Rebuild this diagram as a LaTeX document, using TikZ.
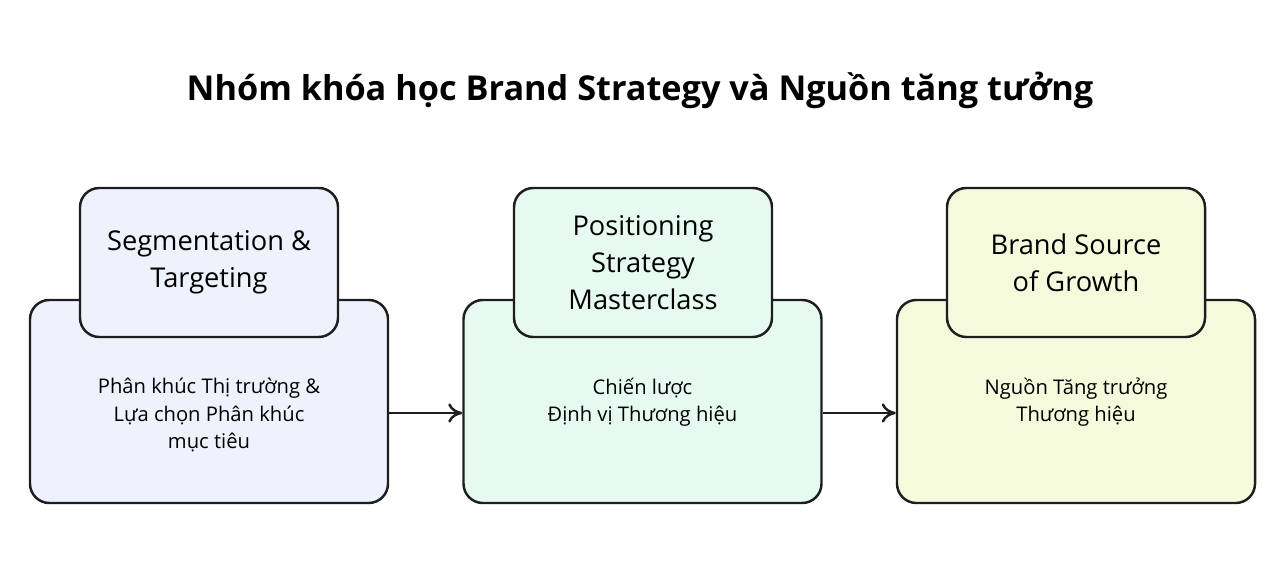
\documentclass[tikz,border=0pt]{standalone}
\usepackage{fontspec}
\setmainfont{Open Sans}
\usetikzlibrary{arrows.meta,positioning}
\definecolor{segfill}{HTML}{EEF2FD}
\definecolor{posfill}{HTML}{E6FAF1}
\definecolor{srcfill}{HTML}{F5FADC}
\definecolor{edge}{HTML}{1E1E1E}
\begin{document}
\begin{tikzpicture}[x=0.02cm,y=-0.02cm,>={To[length=8pt,width=11pt]}]
    \tikzstyle{base} = [draw=edge, shape=rectangle, rounded corners=11pt, line width=1.4pt, minimum width=358*0.02cm, minimum height=203*0.02cm]
    \tikzstyle{head} = [draw=edge, shape=rectangle, rounded corners=11pt, line width=1.4pt, minimum width=258*0.02cm, minimum height=149*0.02cm, align=center, font=\fontsize{15.5}{21}\selectfont]
    \tikzstyle{body} = [align=center, font=\fontsize{11.5}{15.5}\selectfont]
    \useasboundingbox (0,0) rectangle (1280,563);
    %Title
    \node (title) at (640,90) {\fontsize{19.5}{24}\selectfont\bfseries Nhóm khóa học Brand Strategy và Nguồn tăng tưởng};
    %Creating Blocks
    \node [base, fill=segfill] (seg) at (209,401.5) {};
    \node [head, fill=segfill] (seghead) at (209,262.5) {Segmentation \&\\Targeting};
    \node [body] (segtext) at (209,415) {Phân khúc Thị trường \&\\Lựa chọn Phân khúc\\mục tiêu};
    \node [base, fill=posfill] (pos) at (642.5,401.5) {};
    \node [head, fill=posfill] (poshead) at (643,262.5) {Positioning\\Strategy\\Masterclass};
    \node [body] (postext) at (642.5,402) {Chiến lược\\Định vị Thương hiệu};
    \node [base, fill=srcfill] (src) at (1076,401.5) {};
    \node [head, fill=srcfill] (srchead) at (1076,262.5) {Brand Source\\of Growth};
    \node [body] (srctext) at (1076,402) {Nguồn Tăng trưởng\\Thương hiệu};
    %Conecting Blocks
    \begin{scope}[line width=1.4pt, draw=edge]
         \draw[->] (seg.east |- 0,413) -- (pos.west |- 0,413);
         \draw[->] (pos.east |- 0,413) -- (src.west |- 0,413);
    \end{scope}
\end{tikzpicture}
\end{document}
